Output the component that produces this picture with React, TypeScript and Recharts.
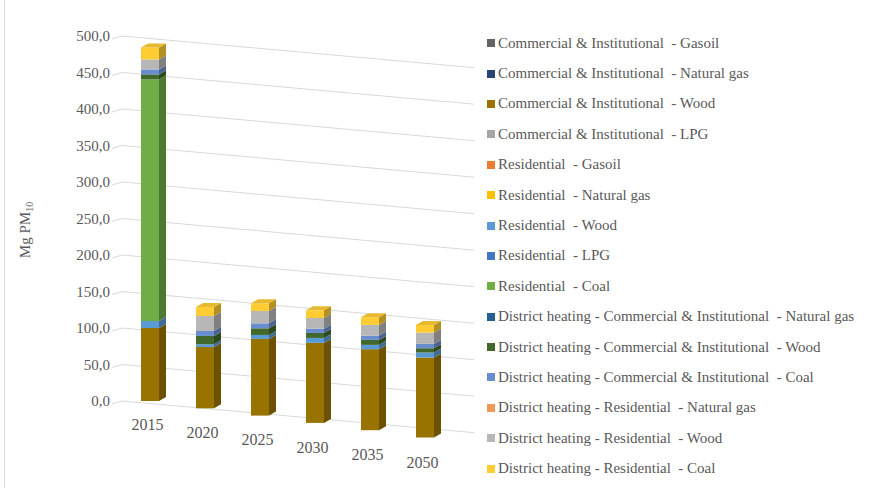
import React from 'react';
import { BarChart, Bar, XAxis, YAxis, CartesianGrid, Legend } from 'recharts';

const years = ['2015', '2020', '2025', '2030', '2035', '2050'];
const yTicks = [0, 50, 100, 150, 200, 250, 300, 350, 400, 450, 500];

const ciGasoil = [0, 0, 0, 0, 0, 0];
const ciNaturalGas = [0, 0, 0, 0, 0, 0];
const ciWood = [100, 84, 105, 109.6, 111, 109.6];
const ciLpg = [0, 0, 0, 0, 0, 0];
const resGasoil = [0, 0, 0, 0, 0, 0];
const resNaturalGas = [0, 0, 0, 0, 0, 0];
const resWood = [9.6, 3.7, 5.5, 6.8, 5.9, 6.8];
const resLpg = [0, 0, 0, 0, 0, 0];
const resCoal = [331, 0, 0, 0, 0, 0];
const dhCiNaturalGas = [0, 0, 0, 0, 0, 0];
const dhCiWood = [6.8, 11.4, 9.1, 6.8, 6.8, 5.9];
const dhCiCoal = [6.8, 6.8, 6.8, 5.9, 5.9, 5.9];
const dhResNaturalGas = [0, 0, 0, 0, 0, 0];
const dhResWood = [13.7, 20.5, 16.9, 14.6, 14.6, 15.5];
const dhResCoal = [16.4, 12.3, 10.5, 10.5, 10.5, 10.5];

const series = [
  { key: 'ciGasoil', name: 'Commercial & Institutional  - Gasoil', color: '#636363', values: ciGasoil },
  { key: 'ciNaturalGas', name: 'Commercial & Institutional  - Natural gas', color: '#264478', values: ciNaturalGas },
  { key: 'ciWood', name: 'Commercial & Institutional  - Wood', color: '#997300', values: ciWood },
  { key: 'ciLpg', name: 'Commercial & Institutional  - LPG', color: '#A5A5A5', values: ciLpg },
  { key: 'resGasoil', name: 'Residential  - Gasoil', color: '#ED7D31', values: resGasoil },
  { key: 'resNaturalGas', name: 'Residential  - Natural gas', color: '#FFC000', values: resNaturalGas },
  { key: 'resWood', name: 'Residential  - Wood', color: '#5B9BD5', values: resWood },
  { key: 'resLpg', name: 'Residential  - LPG', color: '#4472C4', values: resLpg },
  { key: 'resCoal', name: 'Residential  - Coal', color: '#70AD47', values: resCoal },
  { key: 'dhCiNaturalGas', name: 'District heating - Commercial & Institutional  - Natural gas', color: '#255E91', values: dhCiNaturalGas },
  { key: 'dhCiWood', name: 'District heating - Commercial & Institutional  - Wood', color: '#43682B', values: dhCiWood },
  { key: 'dhCiCoal', name: 'District heating - Commercial & Institutional  - Coal', color: '#698ED0', values: dhCiCoal },
  { key: 'dhResNaturalGas', name: 'District heating - Residential  - Natural gas', color: '#F1975A', values: dhResNaturalGas },
  { key: 'dhResWood', name: 'District heating - Residential  - Wood', color: '#B7B7B7', values: dhResWood },
  { key: 'dhResCoal', name: 'District heating - Residential  - Coal', color: '#FFCD33', values: dhResCoal },
];

const data = years.map((year, i) => {
  const row: any = { year };
  series.forEach((s) => { row[s.key] = s.values[i]; });
  return row;
});

const topKey = years.map((_, i) => {
  let k = '';
  series.forEach((s) => { if (s.values[i] > 0) k = s.key; });
  return k;
});

const FONT = "'Liberation Serif', 'Times New Roman', serif";
const TEXT = '#595959';
const DX = 7;
const DY = 4;
const OFF = 7.3;
const SLOPE = 0.09;

function shade(hex: string, f: number) {
  const n = parseInt(hex.slice(1), 16);
  const r = Math.round(((n >> 16) & 255) * f);
  const g = Math.round(((n >> 8) & 255) * f);
  const b = Math.round((n & 255) * f);
  return `rgb(${r},${g},${b})`;
}

const makeShape = (key: string, color: string) => (props: any) => {
  const { x, y, width, height, payload } = props;
  if (!height || height <= 0) return <g />;
  const idx = years.indexOf(payload.year);
  const off = idx * OFF;
  const top = y + off;
  const bottom = y + height + off;
  const isTop = topKey[idx] === key;
  return (
    <g>
      <rect x={x} y={top} width={width} height={height} fill={color} />
      <polygon
        points={`${x + width},${top} ${x + width + DX},${top - DY} ${x + width + DX},${bottom - DY} ${x + width},${bottom}`}
        fill={shade(color, 0.7)}
      />
      {isTop && (
        <polygon
          points={`${x},${top} ${x + DX},${top - DY} ${x + width + DX},${top - DY} ${x + width},${top}`}
          fill={shade(color, 0.9)}
        />
      )}
    </g>
  );
};

const gridLine = (p: any) => {
  const { x1, y1, x2, index } = p;
  return (
    <polyline
      key={`gl-${index}-${y1}`}
      points={`${x1 - 10},${y1 + 3} ${x1},${y1} ${x2 + 4},${y1 + SLOPE * (x2 + 4 - x1)}`}
      fill="none"
      stroke="#D9D9D9"
      strokeWidth={1}
    />
  );
};

const XTick = (p: any) => {
  const { x, y, payload, index } = p;
  return (
    <text x={x - 2} y={y + 29 + index * 7.5} textAnchor="middle" fill={TEXT} fontSize={16} fontFamily={FONT}>
      {payload.value}
    </text>
  );
};

const YLabel = () => (
  <text x={30} y={230} transform="rotate(-90, 30, 230)" textAnchor="middle" fill={TEXT} fontSize={15} fontFamily={FONT}>
    <tspan>Mg PM</tspan>
    <tspan fontSize={10} dy={3}>10</tspan>
  </text>
);

const renderLegend = () => (
  <div style={{ fontFamily: FONT, fontSize: 15, color: TEXT }}>
    {series.map((s) => (
      <div key={s.key} style={{ height: 30.4, display: 'flex', alignItems: 'center', whiteSpace: 'pre' }}>
        <span style={{ display: 'inline-block', width: 8, height: 8, background: s.color, marginRight: 3 }} />
        <span>{s.name}</span>
      </div>
    ))}
  </div>
);

export default function App() {
  return (
    <div style={{ position: 'absolute', left: 0, top: 0, width: 873, height: 488, background: '#fff' }}>
      <div style={{ position: 'absolute', left: 4, top: 0, width: 1, height: 488, background: '#D9D9D9' }} />
      <BarChart
        width={873}
        height={488}
        data={data}
        margin={{ top: 36, right: 403, bottom: 57, left: 40 }}
        barSize={18}
      >
        <CartesianGrid vertical={false} horizontal={gridLine} />
        <XAxis
          dataKey="year"
          axisLine={false}
          tickLine={false}
          tickSize={0}
          tickMargin={0}
          height={30}
          padding={{ left: 0, right: 18 }}
          tick={<XTick />}
          interval={0}
        />
        <YAxis
          domain={[0, 500]}
          ticks={yTicks}
          width={82}
          axisLine={false}
          tickLine={false}
          tickSize={0}
          tickMargin={12}
          tickFormatter={(v: number) => v.toFixed(1).replace('.', ',')}
          tick={{ fill: TEXT, fontSize: 15, fontFamily: FONT }}
          label={<YLabel />}
          interval={0}
        />
        {series.map((s) => (
          <Bar
            key={s.key}
            dataKey={s.key}
            name={s.name}
            stackId="a"
            fill={s.color}
            isAnimationActive={false}
            shape={makeShape(s.key, s.color)}
          />
        ))}
        <Legend
          layout="vertical"
          align="center"
          verticalAlign="middle"
          wrapperStyle={{ left: 487, top: 28, width: 386, height: 460 }}
          content={renderLegend}
        />
      </BarChart>
    </div>
  );
}
